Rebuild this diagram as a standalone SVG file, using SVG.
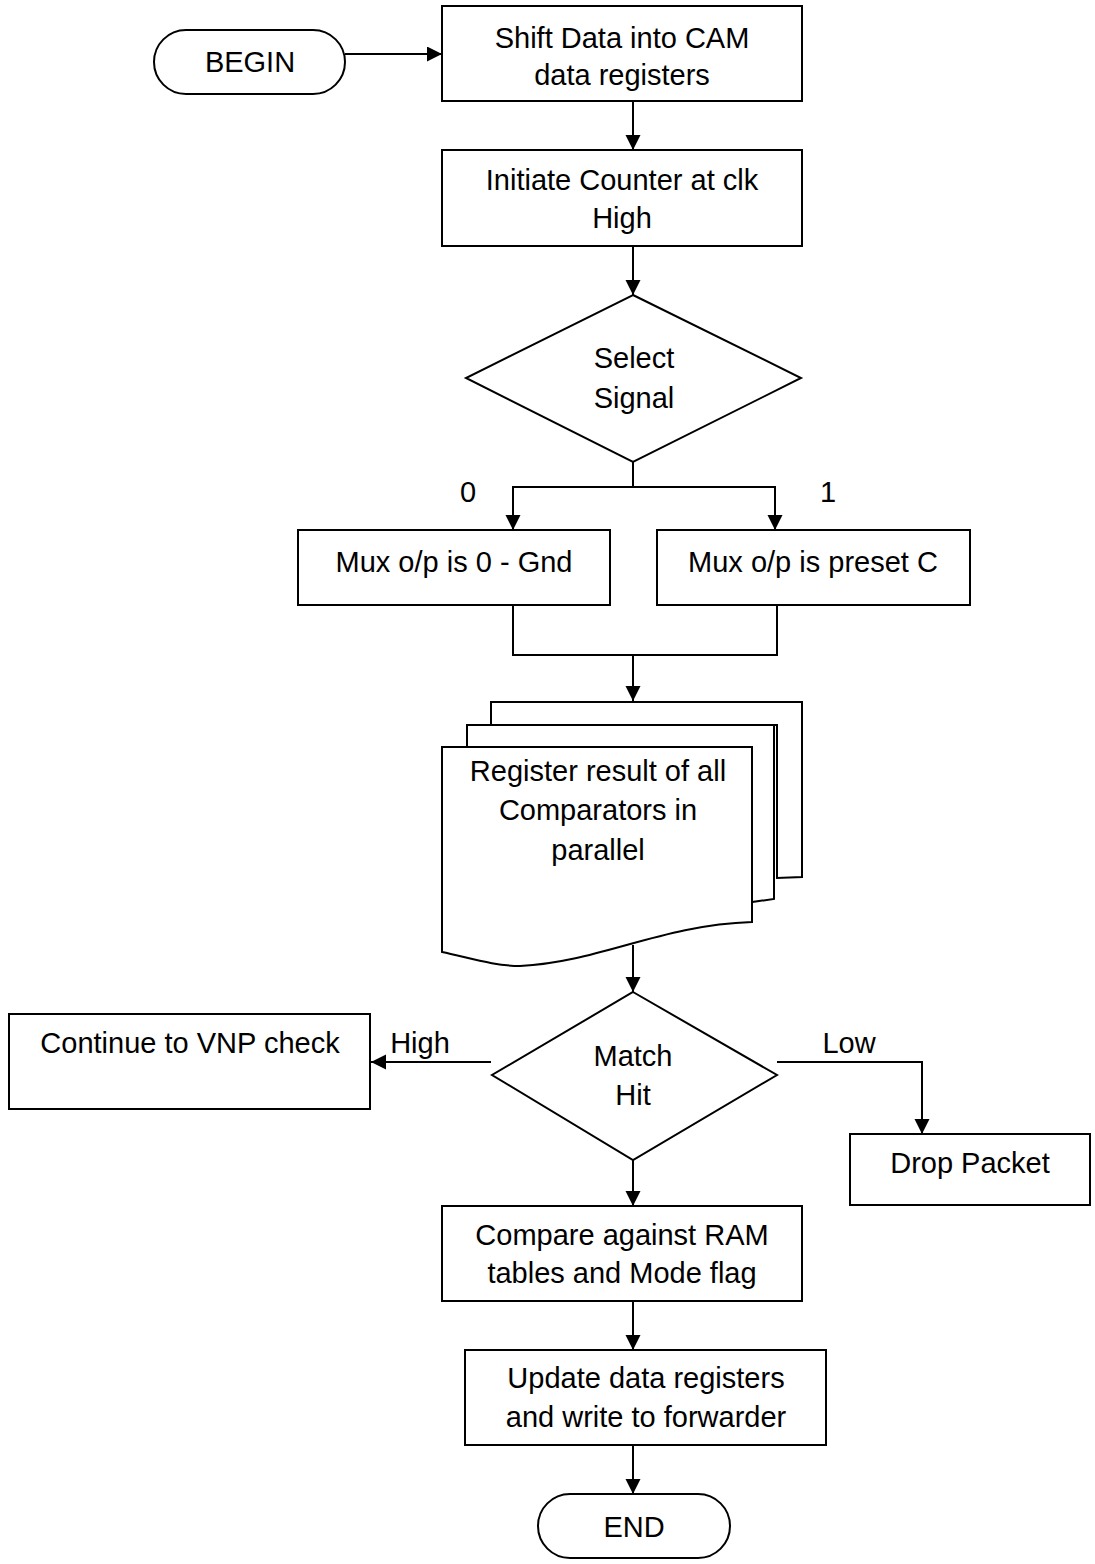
<svg xmlns="http://www.w3.org/2000/svg" width="1095" height="1564" viewBox="0 0 1095 1564">
<style>
.s{fill:#fff;stroke:#000;stroke-width:2}
.c{fill:none;stroke:#000;stroke-width:2}
text{font-family:"Liberation Sans",Arial,sans-serif;font-size:29px;fill:#000}
.m{text-anchor:middle}
</style>
<defs>
<marker id="ah" markerUnits="userSpaceOnUse" markerWidth="16" markerHeight="16" refX="15" refY="7.5" orient="auto">
<path d="M0,0 L15,7.5 L0,15 z" fill="#000"/>
</marker>
</defs>
<rect width="1095" height="1564" fill="#fff"/>
<g id="connectors">
<path class="c" d="M345,54 L442,54" marker-end="url(#ah)"/>
<path class="c" d="M633,101 L633,150" marker-end="url(#ah)"/>
<path class="c" d="M633,246 L633,295" marker-end="url(#ah)"/>
<path class="c" d="M633,462 L633,487"/>
<path class="c" d="M633,487 L513,487 L513,530" marker-end="url(#ah)"/>
<path class="c" d="M633,487 L775,487 L775,530" marker-end="url(#ah)"/>
<path class="c" d="M513,605 L513,655 L777,655 L777,605"/>
<path class="c" d="M633,655 L633,701" marker-end="url(#ah)"/>
<path class="c" d="M633,945 L633,992" marker-end="url(#ah)"/>
<path class="c" d="M491,1062 L371,1062" marker-end="url(#ah)"/>
<path class="c" d="M777,1062 L922,1062 L922,1134" marker-end="url(#ah)"/>
<path class="c" d="M633,1160 L633,1206" marker-end="url(#ah)"/>
<path class="c" d="M633,1301 L633,1350" marker-end="url(#ah)"/>
<path class="c" d="M633,1445 L633,1494" marker-end="url(#ah)"/>
<text x="468" y="502" class="m">0</text>
<text x="828" y="502" class="m">1</text>
<text x="420" y="1053" class="m">High</text>
<text x="849" y="1053" class="m">Low</text>
</g>
<g id="begin">
<rect class="s" x="154" y="30" width="191" height="64" rx="32" ry="32"/>
<text x="250" y="72" class="m">BEGIN</text>
</g>
<g id="shift">
<rect class="s" x="442" y="6" width="360" height="95"/>
<text x="622" y="48" class="m">Shift Data into CAM</text>
<text x="622" y="85" class="m">data registers</text>
</g>
<g id="initiate">
<rect class="s" x="442" y="150" width="360" height="96"/>
<text x="622" y="190" class="m">Initiate Counter at clk</text>
<text x="622" y="228" class="m">High</text>
</g>
<g id="select">
<polygon class="s" points="633,295 801,378 633,462 466,378"/>
<text x="634" y="368" class="m">Select</text>
<text x="634" y="408" class="m">Signal</text>
</g>
<g id="mux0">
<rect class="s" x="298" y="530" width="312" height="75"/>
<text x="454" y="572" class="m">Mux o/p is 0 - Gnd</text>
</g>
<g id="mux1">
<rect class="s" x="657" y="530" width="313" height="75"/>
<text x="813" y="572" class="m">Mux o/p is preset C</text>
</g>
<g id="register">
<path class="s" d="M491,725 L491,702 L802,702 L802,877 L777,878 L777,725 Z"/>
<path class="s" d="M467,747 L467,725 L774,725 L774,899 L752,902 L752,747 Z"/>
<path class="s" d="M442,747 L752,747 L752,922 C660,925 600,962 520,966 C495,966 470,958 442,952 Z"/>
<text x="598" y="781" class="m">Register result of all</text>
<text x="598" y="820" class="m">Comparators in</text>
<text x="598" y="860" class="m">parallel</text>
</g>
<g id="match">
<polygon class="s" points="633,992 777,1075 633,1160 492,1075"/>
<text x="633" y="1066" class="m">Match</text>
<text x="633" y="1105" class="m">Hit</text>
</g>
<g id="vnp">
<rect class="s" x="9" y="1014" width="361" height="95"/>
<text x="190" y="1053" class="m">Continue to VNP check</text>
</g>
<g id="drop">
<rect class="s" x="850" y="1134" width="240" height="71"/>
<text x="970" y="1173" class="m">Drop Packet</text>
</g>
<g id="compare">
<rect class="s" x="442" y="1206" width="360" height="95"/>
<text x="622" y="1245" class="m">Compare against RAM</text>
<text x="622" y="1283" class="m">tables and Mode flag</text>
</g>
<g id="update">
<rect class="s" x="465" y="1350" width="361" height="95"/>
<text x="646" y="1388" class="m">Update data registers</text>
<text x="646" y="1427" class="m">and write to forwarder</text>
</g>
<g id="end">
<rect class="s" x="538" y="1494" width="192" height="64" rx="32" ry="32"/>
<text x="634" y="1537" class="m">END</text>
</g>
</svg>
